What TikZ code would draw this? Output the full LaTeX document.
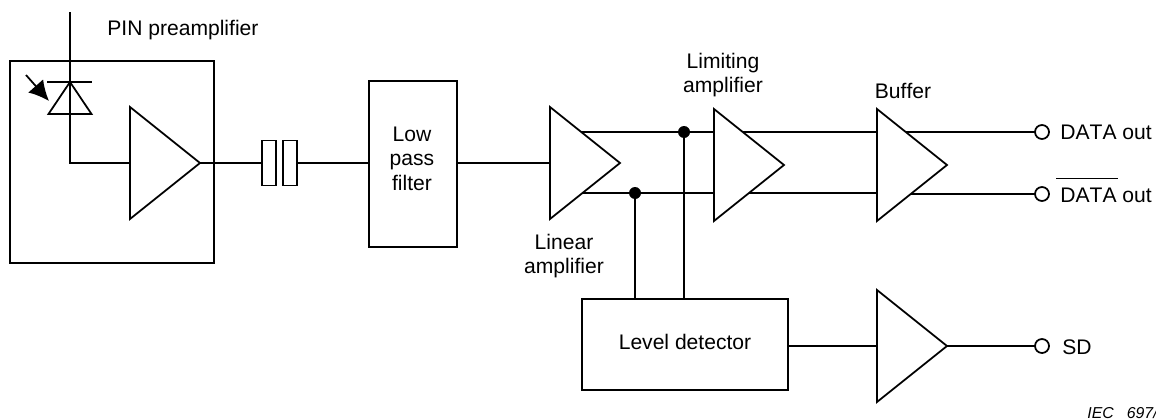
\documentclass[tikz,border=0pt]{standalone}
\usepackage{fontspec}
\setmainfont[Kerning=Off]{Liberation Sans}
\usetikzlibrary{shapes.geometric,backgrounds,arrows.meta}
\tikzset{
  line/.style={line width=1pt},
  ampli/.style={line, draw, fill=white, isosceles triangle, isosceles triangle stretches, inner sep=0pt, outer sep=0pt, minimum height=1.4cm, minimum width=2.24cm, anchor=lower side},
  caja/.style={line, draw, fill=white, inner sep=0pt, outer sep=0pt},
  punto/.style={circle, fill=black, inner sep=0pt, minimum size=0.24cm},
  salida/.style={line, draw, fill=white, circle, inner sep=0pt, outer sep=0pt, minimum size=0.28cm},
  rotulo/.style={font=\fontsize{12}{13.2}\selectfont, align=center, inner sep=0pt}
}
\begin{document}
\begin{tikzpicture}[x=0.02cm,y=-0.02cm]
\useasboundingbox (0,0) rectangle (1156,419);

% Preamplificador
\node[caja, fill=none, minimum width=4.08cm, minimum height=4.04cm] (pin) at (112,162) {};
\node[ampli] (pre) at (130,163) {};
\node[rotulo, anchor=west] (pinlabel) at (107,30) {PIN preamplifier};

% Fotodiodo
\coordinate (pintop) at (70,12);
\coordinate (barl) at (47,82);
\coordinate (barr) at (92,82);
\coordinate (luzini) at (26,75);
\coordinate (luzfin) at (49,101);
\node[line, draw, isosceles triangle, isosceles triangle stretches, shape border rotate=90, inner sep=0pt, outer sep=0pt, minimum height=0.64cm, minimum width=0.86cm, anchor=apex] (diode) at (70,82) {};
\draw[line] (barl) -- (barr);
\draw[line, -{Latex[length=0.4cm,width=0.4cm]}] (luzini) -- (luzfin);

% Condensadores y filtro
\node[caja, minimum width=0.28cm, minimum height=0.9cm] (capa) at (269,163) {};
\node[caja, minimum width=0.28cm, minimum height=0.9cm] (capb) at (290,163) {};
\node[caja, minimum width=1.76cm, minimum height=3.32cm] (filter) at (413,164) {};
\node[rotulo] (filterlabel) at (412,158.5) {Low\\[0.7pt]pass\\[0.7pt]filter};

% Amplificadores
\node[ampli] (lin) at (550,163) {};
\node[ampli] (lim) at (714,165) {};
\node[ampli] (buf) at (877,165) {};
\node[ampli] (sdbuf) at (877,346) {};
\node[rotulo] (linlabel) at (564,256) {Linear\\amplifier};
\node[rotulo] (limlabel) at (723,75) {Limiting\\amplifier};
\node[rotulo] (buflabel) at (903,91) {Buffer};

% Detector de nivel
\node[caja, minimum width=4.12cm, minimum height=1.82cm] (level) at (685,344.5) {};
\node[rotulo] (levellabel) at (685,342) {Level detector};

% Salidas
\node[punto] (dotup) at (684,132) {};
\node[punto] (dotdown) at (635,193) {};
\node[salida] (dataout) at (1042,132) {};
\node[salida] (datanot) at (1042,194) {};
\node[salida] (sdout) at (1042,346) {};
\node[rotulo, anchor=base west] (datalabel) at (1060,139.5) {DATA out};
\node[rotulo, anchor=base west] (notlabel) at (1056,202) {$\overline{\mbox{\rule{0pt}{12pt}\kern2.3pt DATA\kern1pt}}$\kern-1pt\ out};
\node[rotulo, anchor=west] (sdlabel) at (1062,347) {SD};
\node[rotulo, anchor=base west, font=\fontsize{9}{10}\selectfont\itshape] (ieclabel) at (1087,418) {IEC\ \ \ 697/};

% Conexiones
\begin{pgfonlayer}{background}
\draw[line] (pintop) -- (diode.lower side) |- (pre.lower side);
\draw[line] (pre.apex) -- (capa.west);
\draw[line] (capb.east) -- (filter.west |- capb.east);
\draw[line] (filter.east |- lin.lower side) -- (lin.lower side);
\draw[line] (lin.center |- dotup) -- (dotup) -- (lim.center |- dotup);
\draw[line] (lin.center |- dotdown) -- (dotdown) -- (lim.center |- dotdown);
\draw[line] (lim.center |- dotup) -- (buf.center |- dotup);
\draw[line] (lim.center |- dotdown) -- (buf.center |- dotdown);
\draw[line] (buf.center |- dataout) -- (dataout);
\draw[line] (buf.center |- datanot) -- (datanot);
\draw[line] (dotup) -- (dotup |- level.north);
\draw[line] (dotdown) -- (dotdown |- level.north);
\draw[line] (level.east |- sdbuf.lower side) -- (sdbuf.lower side);
\draw[line] (sdbuf.apex) -- (sdout);
\end{pgfonlayer}
\end{tikzpicture}
\end{document}
